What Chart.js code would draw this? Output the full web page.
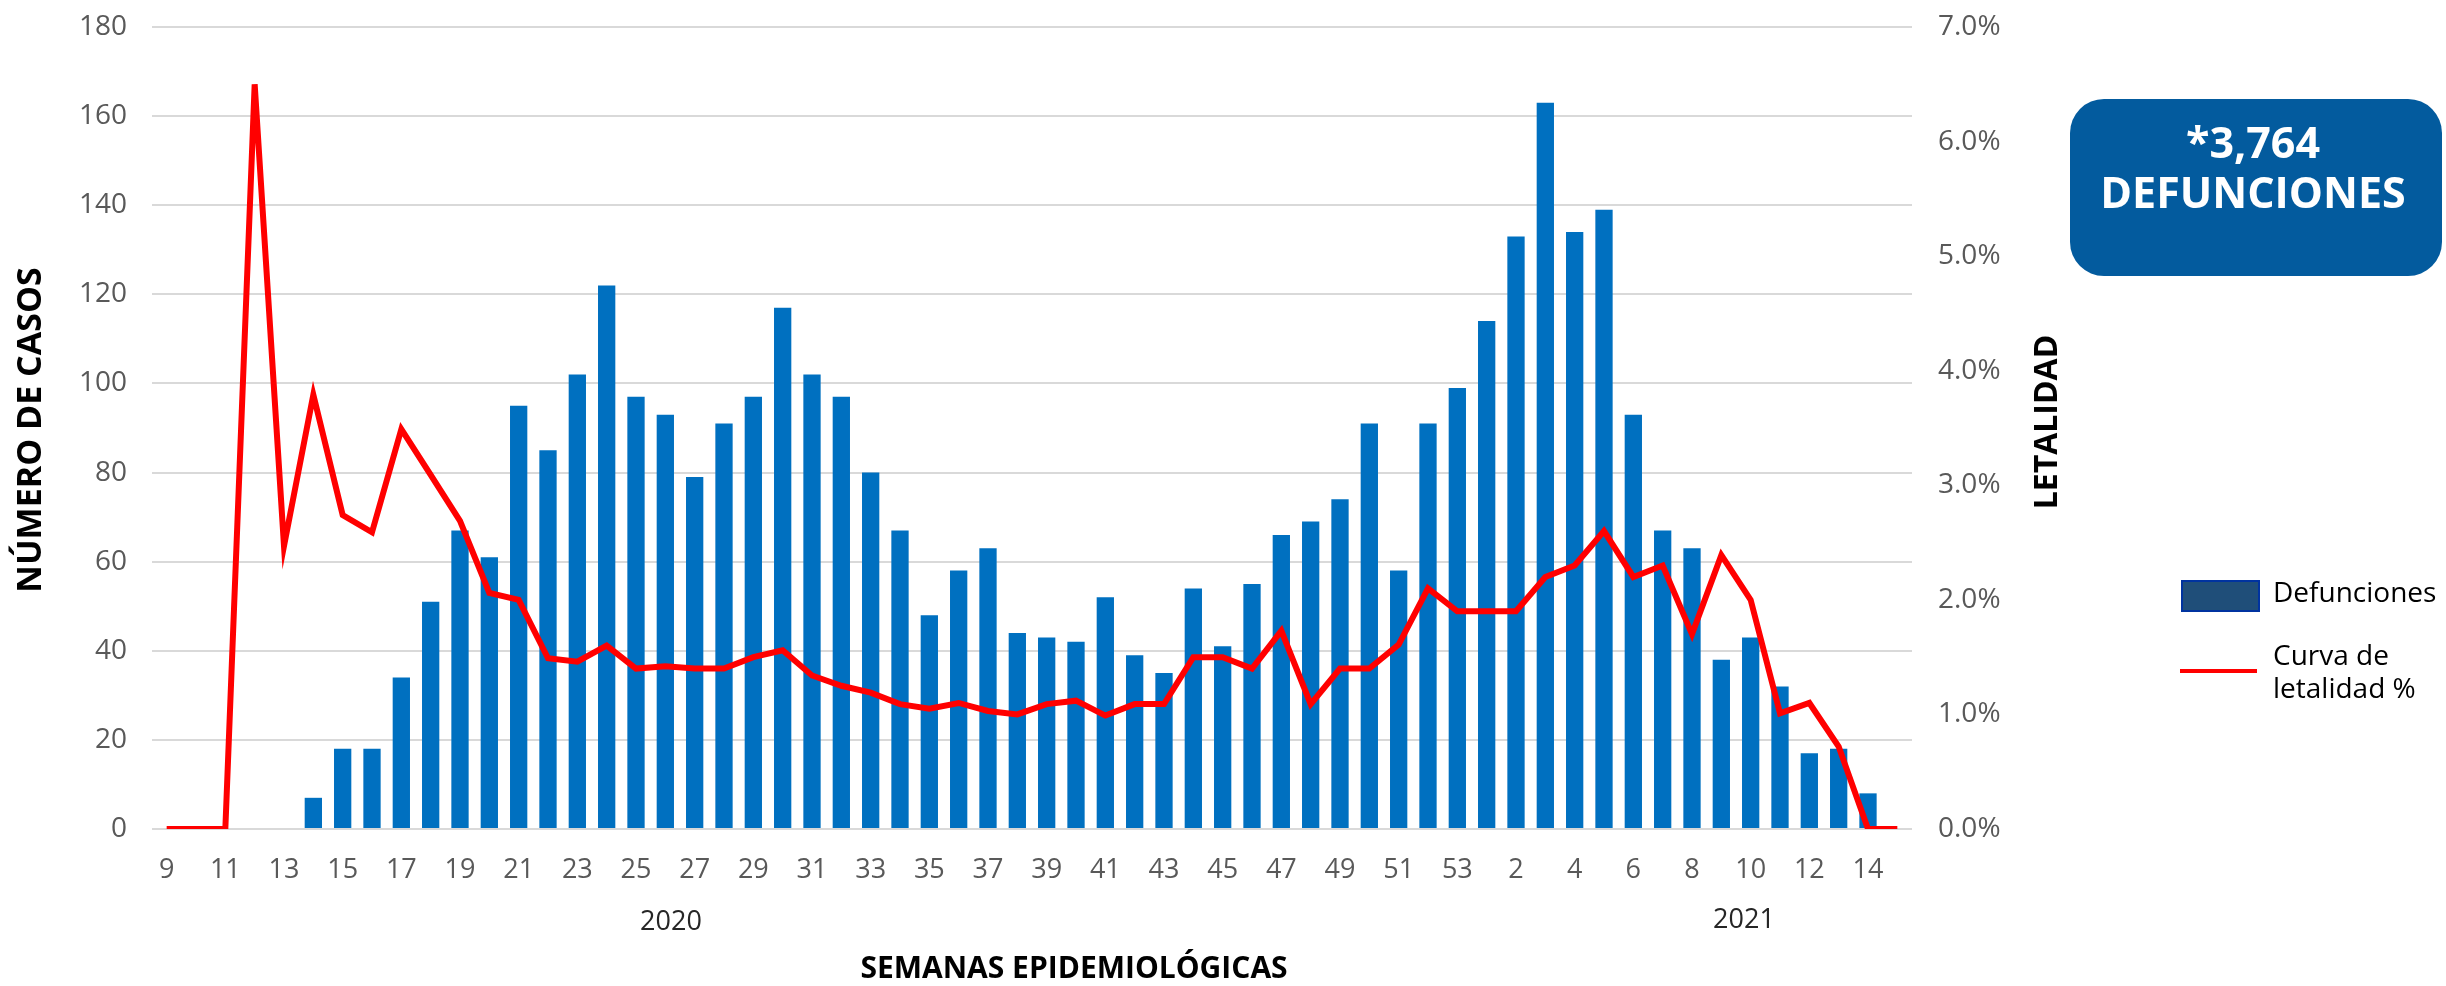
<!DOCTYPE html>
<html>
<head>
<meta charset="utf-8">
<script src="https://cdn.jsdelivr.net/npm/chart.js@4.4.1/dist/chart.umd.min.js"></script>
<style>
html, body { margin: 0; padding: 0; background: #fff; }
canvas { display: block; }
</style>
</head>
<body>
<canvas id="chart" width="2446" height="986"></canvas>
<script>
// semanas epidemiológicas
const weeks2020 = ['9','10','11','12','13','14','15','16','17','18','19','20','21','22','23','24','25','26','27','28','29','30','31','32','33','34','35','36','37','38','39','40','41','42','43','44','45','46','47','48','49','50','51','52','53'];
const weeks2021 = ['1','2','3','4','5','6','7','8','9','10','11','12','13','14','15'];

const deaths2020 = [0, 0, 0, 0, 0, 7, 18, 18, 34, 51, 67, 61, 95, 85, 102, 122, 97, 93, 79, 91, 97, 117, 102, 97, 80, 67, 48, 58, 63, 44, 43, 42, 52, 39, 35, 54, 41, 55, 66, 69, 74, 91, 58, 91, 99];
const deaths2021 = [114, 133, 163, 134, 139, 93, 67, 63, 38, 43, 32, 17, 18, 8, null];

const lethality2020 = [0, 0, 0, 6.5, 2.47, 3.79, 2.74, 2.59, 3.49, 3.09, 2.69, 2.06, 2.0, 1.49, 1.46, 1.6, 1.4, 1.42, 1.4, 1.4, 1.5, 1.56, 1.34, 1.25, 1.19, 1.09, 1.05, 1.1, 1.03, 1.0, 1.09, 1.12, 0.99, 1.09, 1.09, 1.5, 1.5, 1.4, 1.73, 1.09, 1.4, 1.4, 1.61, 2.1, 1.9];
const lethality2021 = [1.9, 1.9, 2.2, 2.3, 2.6, 2.2, 2.3, 1.7, 2.39, 2.0, 1.01, 1.1, 0.72, 0, 0];

const labels = weeks2020.concat(weeks2021);
const deaths = deaths2020.concat(deaths2021);
const lethality = lethality2020.concat(lethality2021);

const FONT = '"Open Sans", "Noto Sans", sans-serif';
const TICK_COLOR = '#595959';

const decorPlugin = {
    id: 'decor',
    afterDraw(chart) {
        const ctx = chart.ctx;
        ctx.save();
        ctx.textAlign = 'center';
        ctx.textBaseline = 'middle';

        // axis titles
        ctx.fillStyle = '#000';
        ctx.font = 'bold 34px ' + FONT;
        ctx.save();
        ctx.translate(31, 430);
        ctx.rotate(-Math.PI / 2);
        ctx.fillText('NÚMERO DE CASOS', 0, 0);
        ctx.restore();

        ctx.font = 'bold 32px ' + FONT;
        ctx.save();
        ctx.translate(2048, 422);
        ctx.rotate(-Math.PI / 2);
        ctx.fillText('LETALIDAD', 0, 0);
        ctx.restore();

        ctx.font = 'bold 30px ' + FONT;
        ctx.fillText('SEMANAS EPIDEMIOLÓGICAS', 1074, 969);

        // years
        ctx.fillStyle = '#262626';
        ctx.font = '27px ' + FONT;
        ctx.fillText('2020', 671, 922);
        ctx.fillText('2021', 1744, 920);

        // total box
        ctx.fillStyle = '#035B9E';
        ctx.beginPath();
        ctx.roundRect(2070, 99, 372, 177, 34);
        ctx.fill();
        ctx.fillStyle = '#fff';
        ctx.font = 'bold 43px ' + FONT;
        ctx.fillText('*3,764', 2253, 146);
        ctx.fillText('DEFUNCIONES', 2253, 196);

        // legend
        const bar = chart.data.datasets[0];
        const line = chart.data.datasets[1];
        ctx.fillStyle = '#1F4E79';
        ctx.fillRect(2182, 581, 77, 30);
        ctx.strokeStyle = '#0033A0';
        ctx.lineWidth = 2;
        ctx.strokeRect(2182, 581, 77, 30);

        ctx.strokeStyle = line.borderColor;
        ctx.lineWidth = 4;
        ctx.beginPath();
        ctx.moveTo(2180, 671);
        ctx.lineTo(2257, 671);
        ctx.stroke();

        ctx.fillStyle = '#000';
        ctx.font = '28px ' + FONT;
        ctx.textAlign = 'left';
        ctx.fillText(bar.label, 2273, 594);
        ctx.fillText('Curva de', 2273, 657);
        ctx.fillText('letalidad %', 2273, 690);

        ctx.restore();
    }
};

new Chart(document.getElementById('chart').getContext('2d'), {
    type: 'bar',
    plugins: [decorPlugin],
    data: {
        labels: labels,
        datasets: [{
            type: 'bar',
            label: 'Defunciones',
            data: deaths,
            backgroundColor: '#0070C0',
            borderWidth: 0,
            barPercentage: 0.59,
            categoryPercentage: 1.0,
            yAxisID: 'y',
            order: 1
        }, {
            type: 'line',
            label: 'Curva de letalidad %',
            data: lethality,
            borderColor: '#FF0000',
            borderWidth: 6,
            pointRadius: 0,
            tension: 0,
            fill: false,
            yAxisID: 'y1',
            order: 0
        }]
    },
    options: {
        responsive: false,
        animation: false,
        devicePixelRatio: 1,
        layout: {
            padding: { top: 27, left: 0, right: 0, bottom: 0 }
        },
        plugins: {
            legend: { display: false },
            tooltip: { enabled: false }
        },
        scales: {
            x: {
                grid: { display: false },
                border: { display: false },
                ticks: {
                    autoSkip: false,
                    maxRotation: 0,
                    minRotation: 0,
                    padding: 17,
                    color: TICK_COLOR,
                    font: { family: FONT, size: 27 },
                    callback: function (value, index) {
                        return index % 2 === 0 ? this.getLabelForValue(value) : '';
                    }
                },
                afterFit: (scale) => { scale.height = 157; }
            },
            y: {
                position: 'left',
                min: 0,
                max: 180,
                grid: { color: '#D9D9D9', lineWidth: 2, drawTicks: false },
                border: { display: false },
                ticks: {
                    stepSize: 20,
                    padding: 25,
                    color: TICK_COLOR,
                    font: { family: FONT, size: 28 }
                },
                afterFit: (scale) => {
                    scale.width = 152;
                    scale.paddingTop = 0;
                    scale.paddingBottom = 0;
                }
            },
            y1: {
                position: 'right',
                min: 0,
                max: 7,
                grid: { display: false, drawTicks: false },
                border: { display: false },
                ticks: {
                    stepSize: 1,
                    padding: 26,
                    color: TICK_COLOR,
                    font: { family: FONT, size: 28 },
                    callback: (value) => value.toFixed(1) + '%'
                },
                afterFit: (scale) => {
                    scale.width = 534;
                    scale.paddingTop = 0;
                    scale.paddingBottom = 0;
                }
            }
        }
    }
});
</script>
</body>
</html>
